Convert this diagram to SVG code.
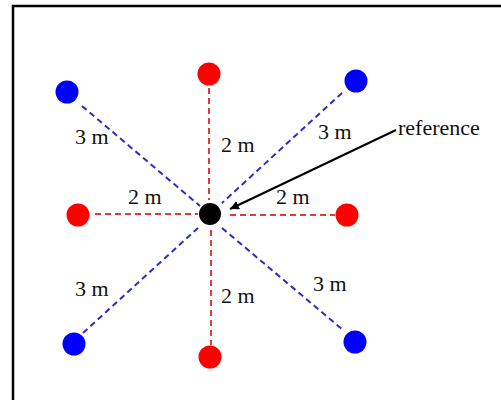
<svg xmlns="http://www.w3.org/2000/svg" width="501" height="400" viewBox="0 0 501 400">
<style>
.rd{stroke:#e03a3a;stroke-width:2;stroke-dasharray:6 4;fill:none}
.bd{stroke:#2b2bc8;stroke-width:2;stroke-dasharray:6 4;fill:none}
.red{fill:#ff0000}
.blue{fill:#0000ff}
</style>
<defs>
<marker id="ah" viewBox="0 0 10 10" refX="10" refY="5" markerWidth="9" markerHeight="9" markerUnits="userSpaceOnUse" orient="auto">
<path d="M0,0 L10,5 L0,10 z" fill="#000"/>
</marker>
</defs>
<rect x="0" y="0" width="501" height="400" fill="#fff"/>
<rect x="13" y="6" width="520" height="420" fill="none" stroke="#000" stroke-width="2.5"/>
<g id="connectors">
<line class="rd" x1="209" y1="88" x2="209" y2="200"/>
<line class="rd" x1="211" y1="230" x2="211" y2="345"/>
<line class="rd" x1="95" y1="214" x2="198" y2="214"/>
<line class="rd" x1="230" y1="215" x2="335" y2="215"/>
<line class="bd" x1="82" y1="106" x2="200" y2="206"/>
<line class="bd" x1="342" y1="93" x2="222" y2="203"/>
<line class="bd" x1="83" y1="333" x2="198" y2="228"/>
<line class="bd" x1="222" y1="228" x2="343" y2="330"/>
<line x1="396" y1="130" x2="230" y2="209" stroke="#000" stroke-width="2" marker-end="url(#ah)"/>
</g>
<g id="center"><circle cx="210" cy="214" r="11" fill="#000"/></g>
<g id="red-top"><circle class="red" cx="209" cy="74" r="11.5"/></g>
<g id="red-bottom"><circle class="red" cx="210" cy="357" r="11.5"/></g>
<g id="red-left"><circle class="red" cx="78" cy="215" r="11.5"/></g>
<g id="red-right"><circle class="red" cx="347" cy="215" r="11.5"/></g>
<g id="blue-tl"><circle class="blue" cx="67" cy="92" r="11.5"/></g>
<g id="blue-tr"><circle class="blue" cx="356" cy="81" r="11.5"/></g>
<g id="blue-bl"><circle class="blue" cx="74" cy="344" r="11.5"/></g>
<g id="blue-br"><circle class="blue" cx="355" cy="342" r="11.5"/></g>
<g id="labels" font-family="'Liberation Serif', 'DejaVu Serif', serif" font-size="22" fill="#111">
<text x="75" y="144">3 m</text>
<text x="221" y="152">2 m</text>
<text x="318" y="139">3 m</text>
<text x="398" y="135">reference</text>
<text x="128" y="204">2 m</text>
<text x="276" y="204">2 m</text>
<text x="75" y="296">3 m</text>
<text x="221" y="303">2 m</text>
<text x="313" y="291">3 m</text>
</g>
</svg>
